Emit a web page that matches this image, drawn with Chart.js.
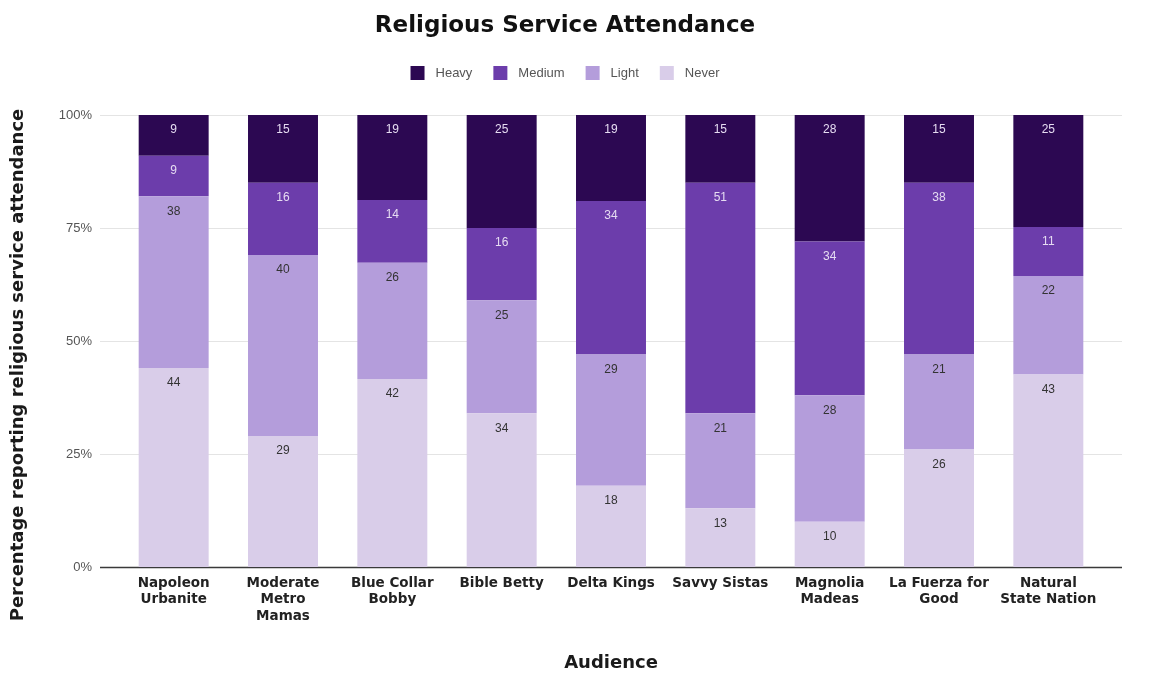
<!DOCTYPE html>
<html>
<head>
<meta charset="utf-8">
<title>Religious Service Attendance</title>
<script src="https://cdn.jsdelivr.net/npm/chart.js@4.4.1/dist/chart.umd.min.js"></script>
<style>
  html, body { margin: 0; padding: 0; background: #fff; }
  #wrap { width: 1157px; height: 689px; }
</style>
</head>
<body>
<div id="wrap"><canvas id="attendanceChart"></canvas></div>
<script>
const audiences = [
  ['Napoleon', 'Urbanite'],
  ['Moderate', 'Metro', 'Mamas'],
  ['Blue Collar', 'Bobby'],
  'Bible Betty',
  'Delta Kings',
  'Savvy Sistas',
  ['Magnolia', 'Madeas'],
  ['La Fuerza for', 'Good'],
  ['Natural', 'State Nation']
];
const heavy  = [9, 15, 19, 25, 19, 15, 28, 15, 25];
const medium = [9, 16, 14, 16, 34, 51, 34, 38, 11];
const light  = [38, 40, 26, 25, 29, 21, 28, 21, 22];
const never  = [44, 29, 42, 34, 18, 13, 10, 26, 43];
const yTicks = [0, 25, 50, 75, 100];

// every column is stretched to 100% of its own total
const totals = audiences.map((_, i) => heavy[i] + medium[i] + light[i] + never[i]);
const share = arr => arr.map((v, i) => v / totals[i] * 100);

const SANS = '"Liberation Sans", Arial, sans-serif';
const BOLD = '"DejaVu Sans", Verdana, sans-serif';

// gridlines run a little past the bars, counts sit near the top of each block,
// legend and y title are drawn by hand
const extras = {
  id: 'extras',
  beforeDatasetsDraw(chart) {
    const { ctx, chartArea: a, scales: { y } } = chart;
    ctx.save();
    yTicks.forEach(t => {
      const py = Math.round(y.getPixelForValue(t)) + 0.5;
      ctx.strokeStyle = t === 0 ? '#3a3a3a' : '#e4e4e4';
      ctx.lineWidth = t === 0 ? 1.5 : 1;
      ctx.beginPath();
      ctx.moveTo(a.left - 19, py);
      ctx.lineTo(a.right + 19, py);
      ctx.stroke();
    });
    ctx.restore();
  },
  afterDatasetsDraw(chart) {
    const { ctx } = chart;
    ctx.save();
    ctx.font = '12px ' + SANS;
    ctx.textAlign = 'center';
    ctx.textBaseline = 'middle';
    chart.data.datasets.forEach((ds, di) => {
      ctx.fillStyle = ds.labelColor;
      chart.getDatasetMeta(di).data.forEach((bar, i) => {
        ctx.fillText(ds.counts[i], bar.x, Math.min(bar.y, bar.base) + 15);
      });
    });
    ctx.restore();
  },
  afterDraw(chart) {
    const { ctx } = chart;
    ctx.save();

    // legend: Heavy, Medium, Light, Never
    const items = chart.data.datasets.slice().reverse();
    ctx.font = '13px ' + SANS;
    const box = 14, gap = 11, space = 21;
    const widths = items.map(ds => box + gap + ctx.measureText(ds.label).width);
    const total = widths.reduce((s, w) => s + w, 0) + space * (items.length - 1);
    let x = (chart.titleBlock.left + chart.titleBlock.right) / 2 - total / 2;
    const ly = 73;
    ctx.textBaseline = 'middle';
    ctx.textAlign = 'left';
    items.forEach((ds, i) => {
      ctx.fillStyle = ds.backgroundColor;
      ctx.fillRect(x, ly - box / 2, box, box);
      ctx.fillStyle = '#555';
      ctx.fillText(ds.label, x + box + gap, ly);
      x += widths[i] + space;
    });

    // y axis title
    ctx.translate(18, 365);
    ctx.rotate(-Math.PI / 2);
    ctx.font = 'bold 18px ' + BOLD;
    ctx.fillStyle = '#1a1a1a';
    ctx.textAlign = 'center';
    ctx.fillText('Percentage reporting religious service attendance', 0, 0);
    ctx.restore();
  }
};

const ctx = document.getElementById('attendanceChart').getContext('2d');
const chart = new Chart(ctx, {
  type: 'bar',
  data: {
    labels: audiences,
    datasets: [
      { label: 'Never',  data: share(never),  counts: never,  backgroundColor: '#d9cde9', labelColor: '#333' },
      { label: 'Light',  data: share(light),  counts: light,  backgroundColor: '#b49ddb', labelColor: '#333' },
      { label: 'Medium', data: share(medium), counts: medium, backgroundColor: '#6c3dab', labelColor: '#e6dcf2' },
      { label: 'Heavy',  data: share(heavy),  counts: heavy,  backgroundColor: '#2c0852', labelColor: '#e6dcf2' }
    ]
  },
  options: {
    responsive: true,
    maintainAspectRatio: false,
    animation: false,
    layout: { padding: { left: 27, right: 54, top: 0, bottom: 0 } },
    datasets: { bar: { barPercentage: 0.64, categoryPercentage: 1 } },
    plugins: {
      legend: { display: false },
      tooltip: { enabled: false },
      title: {
        display: true,
        text: 'Religious Service Attendance',
        color: '#111',
        font: { family: BOLD, size: 23, weight: 'bold', lineHeight: 1 },
        padding: { top: 15, bottom: 77 }
      }
    },
    scales: {
      x: {
        stacked: true,
        grid: { display: false, drawTicks: false },
        border: { display: false },
        ticks: {
          color: '#222',
          font: { family: BOLD, size: 13.5, weight: 'bold', lineHeight: '16.5px' },
          padding: 8,
          maxRotation: 0,
          autoSkip: false
        },
        title: {
          display: true,
          text: 'Audience',
          color: '#1a1a1a',
          font: { family: BOLD, size: 18, weight: 'bold' },
          padding: { bottom: 15 }
        },
        afterFit: s => { s.height = 122; }
      },
      y: {
        stacked: true,
        min: 0,
        max: 100,
        grid: { display: false, drawTicks: false },
        border: { display: false },
        ticks: {
          stepSize: 25,
          color: '#555',
          font: { family: SANS, size: 13 },
          padding: 27,
          callback: v => v + '%'
        },
        afterFit: s => { s.width = 92; }
      }
    }
  },
  plugins: [extras]
});
</script>
</body>
</html>
